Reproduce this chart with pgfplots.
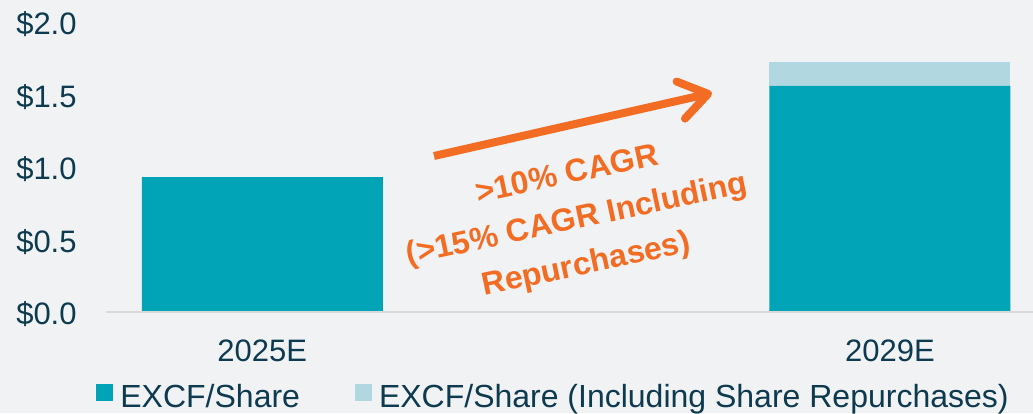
\documentclass[border=0pt]{standalone}
\usepackage{fontspec}
\setmainfont{Liberation Sans}
\usepackage{pgfplots}
\pgfplotsset{compat=1.18}
\usetikzlibrary{arrows.meta}
\definecolor{bg}{HTML}{F1F2F4}
\definecolor{teal1}{HTML}{00A4B6}
\definecolor{teal2}{HTML}{B1D8E0}
\definecolor{navy}{HTML}{0D3A4E}
\definecolor{orng}{HTML}{F26C23}
\definecolor{axgray}{HTML}{D9D9D9}
\begin{document}
\begin{tikzpicture}
\fill[bg] (0,0) rectangle (516.5pt,206.5pt);
\path[use as bounding box] (0,0) rectangle (516.5pt,206.5pt);
\begin{axis}[
  at={(53pt,50.5pt)}, anchor=south west,
  scale only axis, width=463.5pt, height=145pt,
  xmin=-0.249, xmax=1.228, ymin=0, ymax=2,
  ybar stacked, bar width=0.384,
  axis line style={draw=none},
  major tick length=0,
  xtick={0,1}, xticklabels={2025E,2029E},
  ytick={0,0.5,1,1.5,2}, yticklabels={\$0.0,\$0.5,\$1.0,\$1.5,\$2.0},
  tick label style={font=\fontsize{15.5}{18}\selectfont, text=navy, inner sep=0pt},
  xticklabel style={anchor=base, yshift=-24.5pt},
  yticklabel style={anchor=base east, xshift=-14.5pt, yshift=-6.25pt},
  legend style={at={(-0.0108,-0.293)}, anchor=west, draw=none, fill=none, inner sep=0pt,
    font=\fontsize{16}{18}\selectfont, text=navy,
    /tikz/every odd column/.append style={column sep=3.5pt},
    /tikz/every even column/.append style={column sep=27.5pt},
    nodes={inner sep=0pt}},
  legend columns=2,
  legend image code/.code={\fill[#1] (0pt,-2pt) rectangle (8.5pt,6.5pt);},
  legend cell align=left,
  clip=false,
]
\draw[axgray, line width=1pt] (axis cs:-0.249,0) -- (axis cs:1.228,0);
\addplot[fill=teal1, draw=none] coordinates {(0,0.93) (1,1.56)};
\addplot[fill=teal2, draw=none] coordinates {(0,0) (1,0.165)};
\legend{EXCF/Share, EXCF/Share (Including Share Repurchases)}
\end{axis}
\draw[orng, line width=4pt, -{Straight Barb[length=14pt,width=19pt,round]}] (217pt,128.5pt) -- (356pt,160pt);
\node[rotate=12, text=orng, font=\bfseries\fontsize{16}{23}\selectfont, align=center] at (288.5pt,96pt) {>10\% CAGR\\(>15\% CAGR Including\\Repurchases)};
\end{tikzpicture}
\end{document}
